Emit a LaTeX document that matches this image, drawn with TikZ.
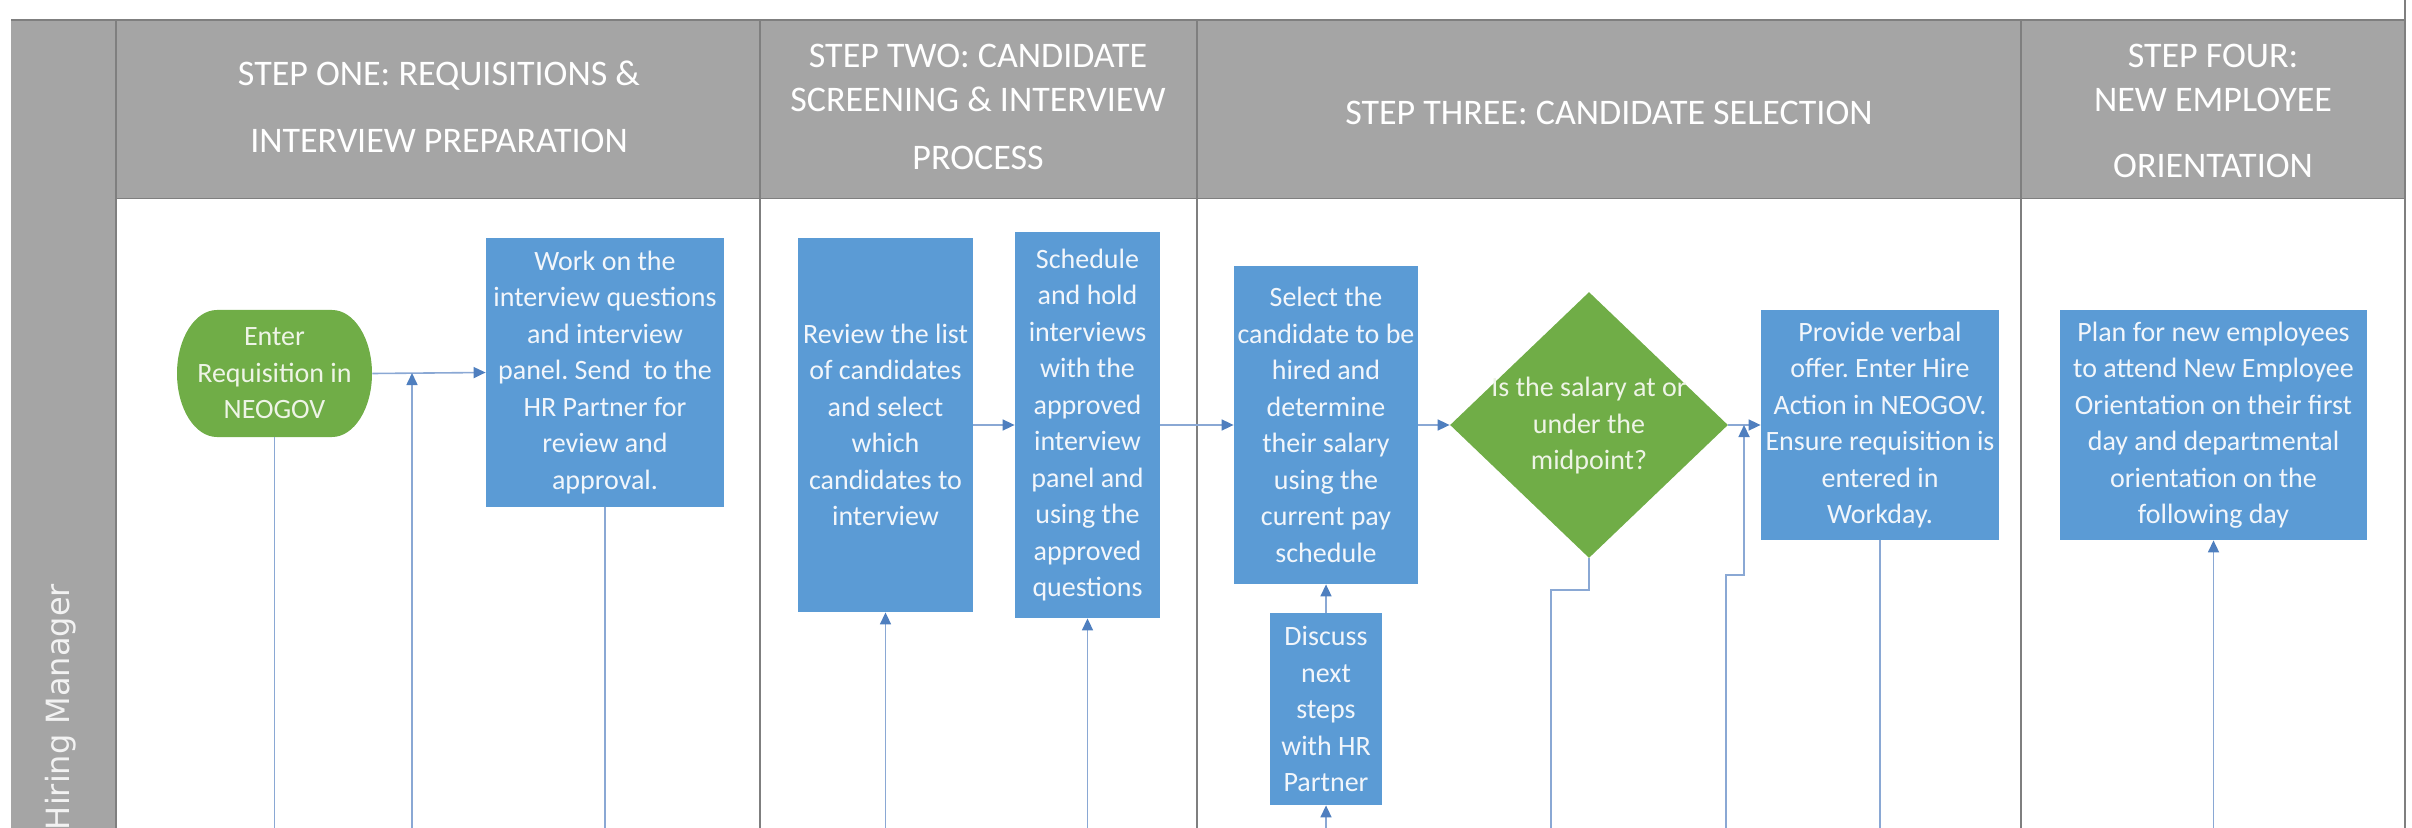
\documentclass[tikz,border=0pt]{standalone}
\usepackage{fontspec}
\setmainfont{Carlito}
\newfontfamily\lanefont{DejaVu Sans}
\usetikzlibrary{arrows.meta,shapes.geometric}

\definecolor{hdrgray}{HTML}{A5A5A5}
\definecolor{rulegray}{HTML}{7F7F7F}
\definecolor{boxblue}{HTML}{5B9BD5}
\definecolor{boxgreen}{HTML}{70AD47}
\definecolor{linkblue}{HTML}{8AA8D4}
\definecolor{tipblue}{HTML}{4F7FBF}
\definecolor{bluetext}{HTML}{F2F6FB}
\definecolor{greentext}{HTML}{EEF4E6}
\definecolor{lanetext}{HTML}{F2F2F2}

\tikzset{
  frameline/.style={draw=rulegray, line width=1pt},
  hdr/.style={text=white, align=center, inner sep=0pt,
    font=\fontsize{18}{23}\selectfont},
  boxfont/.style={font=\fontsize{14}{18.25}\selectfont},
  taskbox/.style={boxfont, fill=boxblue, text=bluetext, align=center,
    inner sep=0pt},
  startbox/.style={boxfont, text=greentext, align=center, inner sep=0pt,
    minimum width=97.5pt, minimum height=63.5pt},
  decision/.style={diamond, fill=boxgreen, inner sep=0pt,
    minimum width=139pt, minimum height=133pt},
  dectext/.style={boxfont, text=greentext, align=center, inner sep=0pt},
  plainlink/.style={draw=linkblue, line width=0.8pt},
  link/.style={plainlink, -{Triangle[length=6pt,width=5.5pt,color=tipblue]}},
}

\begin{document}
\frenchspacing
\begin{tikzpicture}[x=0.5pt, y=-0.5pt]
\useasboundingbox (0,0) rectangle (2412,828);

% swimlane background: header row and lane label column
\fill[hdrgray] (11,20) rectangle (2405,199);
\fill[hdrgray] (11,20) rectangle (116,828);

% frame and column rules
\draw[rulegray, line width=0.5pt] (116,199) -- (2405,199);
\draw[frameline] (11,20) -- (2405,20);
\draw[frameline] (2405,0) -- (2405,828);
\draw[frameline] (116,20) -- (116,828);
\draw[frameline] (760,20) -- (760,828);
\draw[frameline] (1197,20) -- (1197,828);
\draw[frameline] (2021,20) -- (2021,828);

% column headers
\node[hdr] (h1) at (439,107) {STEP ONE: REQUISITIONS \&\\[10.5pt]INTERVIEW PREPARATION};
\node[hdr] (h2) at (978,107) {STEP TWO: CANDIDATE\\[-1pt]SCREENING \& INTERVIEW\\[6pt]PROCESS};
\node[hdr] (h3) at (1609,113) {STEP THREE: CANDIDATE SELECTION};
\node[hdr] (h4) at (2213,111) {STEP FOUR:\\[-1pt]NEW EMPLOYEE\\[10pt]ORIENTATION};

% lane label
\node[rotate=90, text=lanetext, inner sep=0pt,
  font=\lanefont\fontsize{16}{19}\selectfont] (lane) at (61,707) {Hiring Manager};

% start terminator
\fill[boxgreen] (217,310) -- (332,310)
  arc[start angle=-90, end angle=90, x radius=40, y radius=63.5]
  -- (217,437)
  arc[start angle=90, end angle=270, x radius=40, y radius=63.5] -- cycle;
\node[startbox] (enter) at (274.5,373.5) {Enter\\Requisition in\\NEOGOV};

% process steps
\node[taskbox, minimum width=119pt, minimum height=134.5pt] (work) at (605,372.5)
  {Work on the\\interview questions\\and interview\\panel. Send\ \ to the\\HR Partner for\\review and\\approval.};
\node[taskbox, minimum width=87.5pt, minimum height=187pt] (review) at (885.5,425)
  {Review the list\\of candidates\\and select\\which\\candidates to\\interview};
\node[taskbox, minimum width=72.5pt, minimum height=193pt] (schedule) at (1087.5,425)
  {Schedule\\and hold\\interviews\\with the\\approved\\interview\\panel and\\using the\\approved\\questions};
\node[taskbox, minimum width=92pt, minimum height=159pt] (select) at (1326,425)
  {Select the\\candidate to be\\hired and\\determine\\their salary\\using the\\current pay\\schedule};
\node[taskbox, minimum width=56pt, minimum height=96pt] (discuss) at (1326,709)
  {Discuss\\next\\steps\\with HR\\Partner};
\node[decision] (dec) at (1589,425) {};
\node[dectext] (dectxt) at (1589,426) {Is the salary at or\\under the\\midpoint?};
\node[taskbox, minimum width=119pt, minimum height=115pt] (provide) at (1880,425)
  {Provide verbal\\offer. Enter Hire\\Action in NEOGOV.\\Ensure requisition is\\entered in\\Workday.};
\node[taskbox, minimum width=153.5pt, minimum height=115pt] (plan) at (2213.5,425)
  {Plan for new employees\\to attend New Employee\\Orientation on their first\\day and departmental\\orientation on the\\following day};

% connector anchors along the lower edge and junctions
\coordinate (bot) at (0,828);
\coordinate (j1) at (412,373);
\coordinate (b1) at (412,828);
\coordinate (j3) at (1551,590);
\coordinate (b3) at (1551,828);
\coordinate (b4) at (1726,828);
\coordinate (j5) at (1744,575);
\coordinate (j4) at (1744,425);

% connectors
\draw[link] (enter.east) -- (work.west);
\draw[link] (b1) -- (j1);
\draw[plainlink] (enter.south) -- (enter.south |- bot);
\draw[plainlink] (work.south) -- (work.south |- bot);
\draw[link] (review.south |- bot) -- (review.south);
\draw[link] (schedule.south |- bot) -- (schedule.south);
\draw[link] (review.east) -- (schedule.west);
\draw[link] (schedule.east) -- (select.west);
\draw[link] (select.east) -- (dec.west);
\draw[link] (discuss.north) -- (select.south);
\draw[link] (discuss.south |- bot) -- (discuss.south);
\draw[plainlink] (dec.south) |- (j3) -- (b3);
\draw[link] (dec.east) -- (provide.west);
\draw[link] (b4) |- (j5) -- (j4);
\draw[plainlink] (provide.south) -- (provide.south |- bot);
\draw[link] (plan.south |- bot) -- (plan.south);
\end{tikzpicture}
\end{document}
